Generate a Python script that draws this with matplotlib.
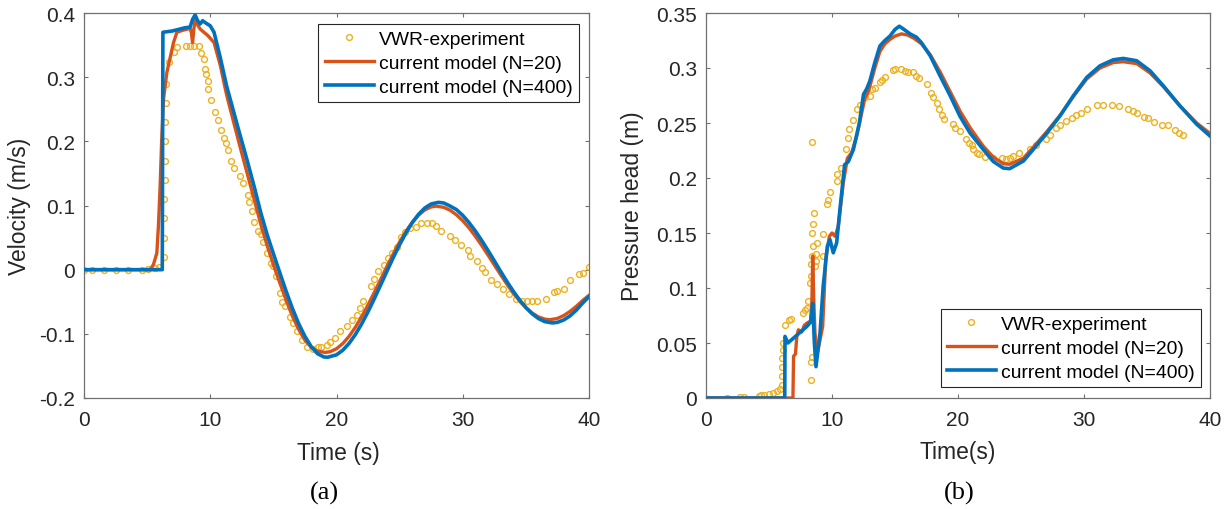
import matplotlib
matplotlib.use("Agg")
import matplotlib.pyplot as plt

plt.rcParams['font.family'] = ['Liberation Sans', 'DejaVu Sans']
plt.rcParams['axes.unicode_minus'] = False

# ---------------- data: (a) velocity ----------------
vel_exp_t = [0, 0.66, 1.59, 2.5, 3.46, 4.57, 5.1, 5.63, 5.95,
             6.3, 6.32, 6.35, 6.35, 6.38, 6.4, 6.42, 6.45, 6.48, 6.5,
             6.7, 7.09, 7.4, 8.1, 8.4, 8.7, 9.1, 9.26, 9.47, 9.6, 9.7, 9.8, 9.85,
             10.08, 10.4, 10.58, 10.87, 11.1, 11.25, 11.4, 11.67, 11.9, 12.33, 12.57,
             12.99, 13.1, 13.3, 13.5, 13.8, 14.0, 14.2, 14.5, 14.8, 15.0, 15.2, 15.5,
             15.7, 15.95, 16.3, 16.56, 16.9, 17.3, 17.7, 18.1, 18.5, 18.8, 19.26, 19.5,
             19.9, 20.24, 20.85, 21.25, 21.6, 21.9, 22.1, 22.75, 23.0, 23.3, 23.75,
             24.07, 24.4, 24.76, 25.08, 25.4, 25.8, 26.27, 26.7, 27.2, 27.6, 27.9,
             28.3, 29.0, 29.4, 29.9, 30.4, 30.6, 31.1, 31.5, 31.75, 32.2, 32.75, 33.2,
             33.7, 34.2, 34.7, 35.1, 35.5, 35.9, 36.6, 37.25, 37.5, 38.0, 38.5, 39.2,
             39.5, 40.0]
vel_exp_v = [0, 0, 0, 0, 0, 0, 0.001, 0.002, 0.004,
             0.02, 0.05, 0.08, 0.11, 0.14, 0.17, 0.2, 0.23, 0.26, 0.29,
             0.323, 0.339, 0.347, 0.349, 0.349, 0.349, 0.349, 0.3375, 0.328, 0.313, 0.305, 0.294, 0.281,
             0.264, 0.245, 0.233, 0.218, 0.205, 0.198, 0.187, 0.169, 0.159, 0.146, 0.135,
             0.116, 0.105, 0.091, 0.075, 0.060, 0.055, 0.043, 0.026, 0.010, 0.005, -0.010, -0.036,
             -0.050, -0.057, -0.073, -0.083, -0.096, -0.110, -0.120, -0.124, -0.121, -0.121, -0.117, -0.112,
             -0.107, -0.095, -0.0875, -0.079, -0.070, -0.060, -0.0495, -0.026, -0.0146, -0.0026, 0.0078,
             0.018, 0.026, 0.036, 0.051, 0.058, 0.065, 0.066, 0.072, 0.072, 0.072, 0.068,
             0.060, 0.052, 0.046, 0.039, 0.031, 0.021, 0.013, 0.0026, -0.004, -0.0156, -0.023, -0.030,
             -0.0375, -0.046, -0.0495, -0.0495, -0.0495, -0.0495, -0.046, -0.0355, -0.033, -0.030, -0.0156, -0.007,
             -0.005, 0.004]

vel_n20_t = [0, 5.24, 5.5, 5.77, 5.9, 6.03, 6.15, 6.3, 6.56, 7.09, 7.36, 7.8, 8.4, 8.5, 8.6,
             8.7, 8.8, 9.2, 9.8, 10.3, 10.8, 11.3, 11.8, 12.3, 12.9, 13.5, 14.0, 14.5, 15.0,
             15.5, 16.0, 16.5, 17.0, 17.5, 18.0, 18.5, 19.1, 19.5, 20.0, 20.5, 21.0, 21.5,
             22.0, 22.5, 23.0, 23.5, 24.0, 24.5, 25.0, 25.5, 26.0, 26.5, 27.0, 27.5, 27.9,
             28.5, 29.0, 29.5, 30.0, 30.5, 31.0, 31.5, 32.0, 32.5, 33.0, 33.5, 34.0, 34.5,
             35.0, 35.5, 36.0, 36.5, 36.9, 37.5, 38.0, 38.5, 39.0, 39.5, 40.0]
vel_n20_v = [0, 0, 0.008, 0.026, 0.07, 0.13, 0.2, 0.266, 0.307, 0.354, 0.37, 0.373, 0.376, 0.37, 0.354,
             0.375, 0.388, 0.375, 0.365, 0.354, 0.318, 0.272, 0.234, 0.196, 0.152, 0.108, 0.071, 0.038, 0.008,
             -0.020, -0.047, -0.072, -0.093, -0.110, -0.121, -0.127, -0.129, -0.1278, -0.1232, -0.1151, -0.1038, -0.0896,
             -0.0732, -0.0548, -0.0352, -0.0150, 0.0052, 0.0248, 0.0432, 0.0596, 0.0738, 0.0851, 0.0932, 0.0978, 0.099,
             0.0971, 0.0926, 0.0855, 0.0763, 0.0650, 0.0520, 0.0378, 0.0228, 0.0074, -0.0079, -0.0227, -0.0364, -0.0487,
             -0.0592, -0.0676, -0.0737, -0.0771, -0.078, -0.076, -0.0715, -0.065, -0.057, -0.048, -0.040]

vel_n400_t = [0, 6.2, 6.25, 7.0, 8.0, 8.4, 8.6, 8.8, 9.0, 9.2, 9.4, 9.6, 10.0, 10.3, 10.8, 11.3,
              11.8, 12.3, 12.9, 13.5, 14.0, 14.5, 15.0, 15.6, 16.0, 16.5, 17.0, 17.5, 18.0, 18.5,
              19.0, 19.3, 20.0, 20.5, 21.0, 21.5, 22.0, 22.5, 23.0, 23.5, 24.0, 24.5, 25.0, 25.5,
              26.0, 26.5, 27.0, 27.5, 28.07, 28.5, 29.0, 29.5, 30.0, 30.5, 31.0, 31.5, 32.0, 32.5,
              33.0, 33.5, 34.0, 34.5, 35.0, 35.5, 36.0, 36.5, 37.1, 37.5, 38.0, 38.5, 39.0, 39.5, 40.0]
vel_n400_v = [0, 0, 0.370, 0.372, 0.377, 0.378, 0.39, 0.397, 0.388, 0.383, 0.388, 0.385, 0.38, 0.37, 0.330, 0.286,
              0.250, 0.214, 0.172, 0.128, 0.089, 0.055, 0.025, -0.010, -0.033, -0.060, -0.084, -0.104, -0.120, -0.131,
              -0.136, -0.1365, -0.1327, -0.1255, -0.1148, -0.1009, -0.0843, -0.0655, -0.0451, -0.0238, -0.0022, 0.0189, 0.0390, 0.0573,
              0.0732, 0.0863, 0.0962, 0.1024, 0.1049, 0.1039, 0.0991, 0.0936, 0.0846, 0.0733, 0.0602, 0.0456, 0.0300, 0.0138,
              -0.0026, -0.0185, -0.0335, -0.0471, -0.0590, -0.0688, -0.0762, -0.0810, -0.083, -0.0821, -0.0784, -0.072, -0.063, -0.052, -0.042]

# ---------------- data: (b) pressure head ----------------
ph_exp_t = [1.7, 2.7, 3.0, 4.2, 4.4, 4.6, 5.0, 5.3, 5.6, 5.85, 6.06, 6.06, 6.06, 6.06, 6.08, 6.08,
            6.27, 6.6, 6.72, 7.7, 7.85, 8.0, 8.1, 8.25, 8.3, 8.35, 8.45, 8.47, 8.42, 8.47, 8.55,
            8.39, 8.3, 8.35, 8.38, 8.65, 8.75, 8.7, 8.84, 9.26, 9.26, 9.63, 9.65, 9.84, 10.37,
            10.4, 10.69, 11.1, 11.3, 11.38, 11.7, 11.96, 12.2, 12.6, 13.0, 13.15, 13.4, 13.8,
            13.94, 14.2, 14.87, 15.0, 15.45, 15.8, 16.0, 16.4, 16.67, 16.93, 17.57, 17.83, 17.99,
            18.3, 18.5, 18.7, 18.9, 19.58, 19.76, 20.16, 20.6, 20.9, 21.1, 21.2, 21.5, 21.7, 22.14,
            22.8, 23.5, 23.8, 24.1, 24.4, 24.87, 25.7, 26.2, 27.0, 27.3, 27.8, 28.1, 28.6, 29.02,
            29.37, 29.8, 30.2, 31.0, 31.5, 32.2, 32.8, 33.5, 33.9, 34.18, 34.76, 35.05, 35.56,
            36.17, 36.7, 37.22, 37.57, 37.83]
ph_exp_h = [0.0, 0.001, 0.001, 0.002, 0.003, 0.003, 0.004, 0.005, 0.006, 0.008, 0.012, 0.02, 0.028, 0.036, 0.044, 0.05,
            0.0665, 0.071, 0.072, 0.077, 0.080, 0.082, 0.088, 0.1045, 0.111, 0.122, 0.129, 0.138, 0.150, 0.158, 0.168,
            0.233, 0.016, 0.033, 0.037, 0.12, 0.125, 0.131, 0.141, 0.149, 0.129, 0.176, 0.18, 0.187, 0.197,
            0.204, 0.209, 0.226, 0.236, 0.245, 0.253, 0.2625, 0.266, 0.274, 0.275, 0.281, 0.282, 0.2869,
            0.289, 0.2914, 0.2983, 0.299, 0.299, 0.2975, 0.296, 0.2966, 0.2929, 0.2905, 0.2853, 0.277, 0.274,
            0.2686, 0.263, 0.257, 0.254, 0.2489, 0.2458, 0.2428, 0.2358, 0.2315, 0.2297, 0.2267, 0.223, 0.2215, 0.2194,
            0.2185, 0.2185, 0.2176, 0.2185, 0.220, 0.223, 0.2267, 0.2297, 0.2352, 0.2388, 0.2458, 0.248, 0.252, 0.255,
            0.257, 0.2589, 0.2625, 0.2662, 0.2662, 0.2662, 0.2656, 0.2625, 0.261, 0.2595, 0.2559, 0.2544, 0.2513,
            0.248, 0.248, 0.2437, 0.2407, 0.2388]

ph_n20_t = [0, 6.9, 6.95, 7.1, 7.2, 7.33, 7.6, 7.8, 8.0, 8.3, 8.4, 8.47, 8.55, 8.65, 8.84, 9.0,
            9.26, 9.5, 9.79, 10.0, 10.24, 10.5, 10.9, 11.22, 11.56, 11.96, 12.6, 12.9, 13.4, 13.8,
            14.2, 14.6, 15.0, 15.5, 16.0, 16.5, 17.1, 17.8, 18.6, 19.4, 20.2, 21.0, 22.0, 22.8,
            23.6, 24.1, 25.19, 25.98, 27.04, 28.1, 29.15, 30.21, 31.27, 32.33, 33.12, 34.18, 35.24,
            36.3, 37.62, 38.94, 40]
ph_n20_h = [0, 0, 0.038, 0.040, 0.055, 0.062, 0.060, 0.066, 0.068, 0.070, 0.085, 0.129, 0.09, 0.059, 0.041, 0.05,
            0.065, 0.126, 0.147, 0.150, 0.147, 0.156, 0.196, 0.218, 0.223, 0.238, 0.272, 0.279, 0.300, 0.315,
            0.322, 0.326, 0.329, 0.331, 0.330, 0.327, 0.322, 0.312, 0.296, 0.278, 0.260, 0.245, 0.229, 0.219,
            0.213, 0.2125, 0.218, 0.228, 0.242, 0.257, 0.274, 0.290, 0.300, 0.305, 0.3057, 0.304, 0.2955,
            0.283, 0.2655, 0.250, 0.2405]

ph_n400_t = [0, 6.25, 6.27, 6.5, 7.0, 7.5, 8.0, 8.3, 8.47, 8.6, 8.73, 9.05, 9.3, 9.63, 9.84, 10.1,
             10.37, 10.6, 11.0, 11.3, 11.7, 12.17, 12.5, 12.75, 13.0, 13.4, 13.8, 14.2, 14.6, 15.0,
             15.34, 15.66, 16.2, 16.7, 17.1, 17.8, 18.57, 19.37, 20.16, 20.95, 22.0, 22.8, 23.6, 24.1,
             25.19, 25.98, 27.04, 28.1, 29.15, 30.21, 31.27, 32.33, 33.12, 34.18, 35.24, 36.3, 37.62,
             38.94, 40]
ph_n400_h = [0, 0, 0.056, 0.050, 0.055, 0.060, 0.065, 0.069, 0.086, 0.050, 0.0285, 0.059, 0.1015, 0.138, 0.144, 0.132,
             0.141, 0.168, 0.212, 0.215, 0.226, 0.250, 0.276, 0.281, 0.288, 0.305, 0.320, 0.325, 0.329, 0.335,
             0.338, 0.3355, 0.331, 0.328, 0.323, 0.311, 0.293, 0.275, 0.256, 0.241, 0.226, 0.215, 0.209, 0.2085,
             0.2154, 0.2261, 0.2407, 0.2565, 0.2747, 0.2914, 0.3020, 0.3075, 0.3087, 0.3066, 0.2975, 0.2838, 0.2655,
             0.2489, 0.2382]

x_ticks = [0, 10, 20, 30, 40]
x_ticklabels = ['0', '10', '20', '30', '40']
vel_ticks = [-0.2, -0.1, 0, 0.1, 0.2, 0.3, 0.4]
vel_ticklabels = ['-0.2', '-0.1', '0', '0.1', '0.2', '0.3', '0.4']
ph_ticks = [0, 0.05, 0.1, 0.15, 0.2, 0.25, 0.3, 0.35]
ph_ticklabels = ['0', '0.05', '0.1', '0.15', '0.2', '0.25', '0.3', '0.35']
legend_labels = ['VWR-experiment', 'current model (N=20)', 'current model (N=400)']

C_EXP = '#EDB120'
C_N20 = '#D95319'
C_N400 = '#0072BD'
AX_C = '#707070'
TXT_C = '#262626'

W, H = 1231, 510
fig = plt.figure(figsize=(W / 100, H / 100), dpi=100)

axL = fig.add_axes([84 / W, 1 - 399 / H, 505 / W, 385 / H])
axR = fig.add_axes([706 / W, 1 - 399 / H, 504 / W, 385 / H])


def style(ax):
    for s in ax.spines.values():
        s.set_color(AX_C)
        s.set_linewidth(0.9)
    ax.tick_params(axis='both', which='both', direction='in', length=3.2, width=0.8,
                   color=AX_C, top=True, right=True, labelsize=15, labelcolor=TXT_C)
    ax.tick_params(axis='x', pad=9)
    ax.tick_params(axis='y', pad=6.5)


def draw(ax, et, ev, rt, rv, bt, bv):
    ax.plot(et, ev, linestyle='none', marker='o', markersize=4.2, markerfacecolor='none',
            markeredgecolor=C_EXP, markeredgewidth=1.0, label=legend_labels[0], zorder=2)
    ax.plot(rt, rv, color=C_N20, linewidth=2.4, label=legend_labels[1], zorder=3)
    ax.plot(bt, bv, color=C_N400, linewidth=2.6, label=legend_labels[2], zorder=4)


draw(axL, vel_exp_t, vel_exp_v, vel_n20_t, vel_n20_v, vel_n400_t, vel_n400_v)
draw(axR, ph_exp_t, ph_exp_h, ph_n20_t, ph_n20_h, ph_n400_t, ph_n400_h)

for ax in (axL, axR):
    style(ax)
    ax.set_xlim(0, 40)
    ax.set_xticks(x_ticks)
    ax.set_xticklabels(x_ticklabels)

axL.set_ylim(-0.2, 0.4)
axL.set_yticks(vel_ticks)
axL.set_yticklabels(vel_ticklabels)
axR.set_ylim(0, 0.35)
axR.set_yticks(ph_ticks)
axR.set_yticklabels(ph_ticklabels)

axL.set_xlabel('Time (s)', fontsize=16.5, color=TXT_C, va='center')
axL.xaxis.set_label_coords(0.504, (399 - 454) / 385)
axR.set_xlabel('Time(s)', fontsize=16.5, color=TXT_C, va='center')
axR.xaxis.set_label_coords(0.5, (399 - 453) / 385)
axL.set_ylabel('Velocity (m/s)', fontsize=16.5, color=TXT_C, va='center')
axL.yaxis.set_label_coords((20 - 84) / 505, 0.5)
axR.set_ylabel('Pressure head (m)', fontsize=16.5, color=TXT_C, va='center')
axR.yaxis.set_label_coords((633 - 706) / 504, 0.5)

leg_kw = dict(fontsize=13.9, frameon=True, fancybox=False, framealpha=1,
              edgecolor='#262626', handlelength=2.55, handletextpad=0.25,
              borderpad=0.32, labelspacing=0.34, borderaxespad=0, numpoints=1)
lg = axL.legend(loc='upper right', bbox_to_anchor=((578.5 - 84) / 505, (399 - 25) / 385), **leg_kw)
lg.get_frame().set_linewidth(0.8)
lg2 = axR.legend(loc='lower right', bbox_to_anchor=((1200.7 - 706) / 504, (399 - 388.3) / 385), **leg_kw)
lg2.get_frame().set_linewidth(0.8)

fig.text(324 / W, 1 - 493 / H, '(a)', fontsize=19, family=['Liberation Serif', 'DejaVu Serif'],
         ha='center', va='center', color='black')
fig.text(959 / W, 1 - 493 / H, '(b)', fontsize=19, family=['Liberation Serif', 'DejaVu Serif'],
         ha='center', va='center', color='black')

fig.savefig('out.png', dpi=100)
